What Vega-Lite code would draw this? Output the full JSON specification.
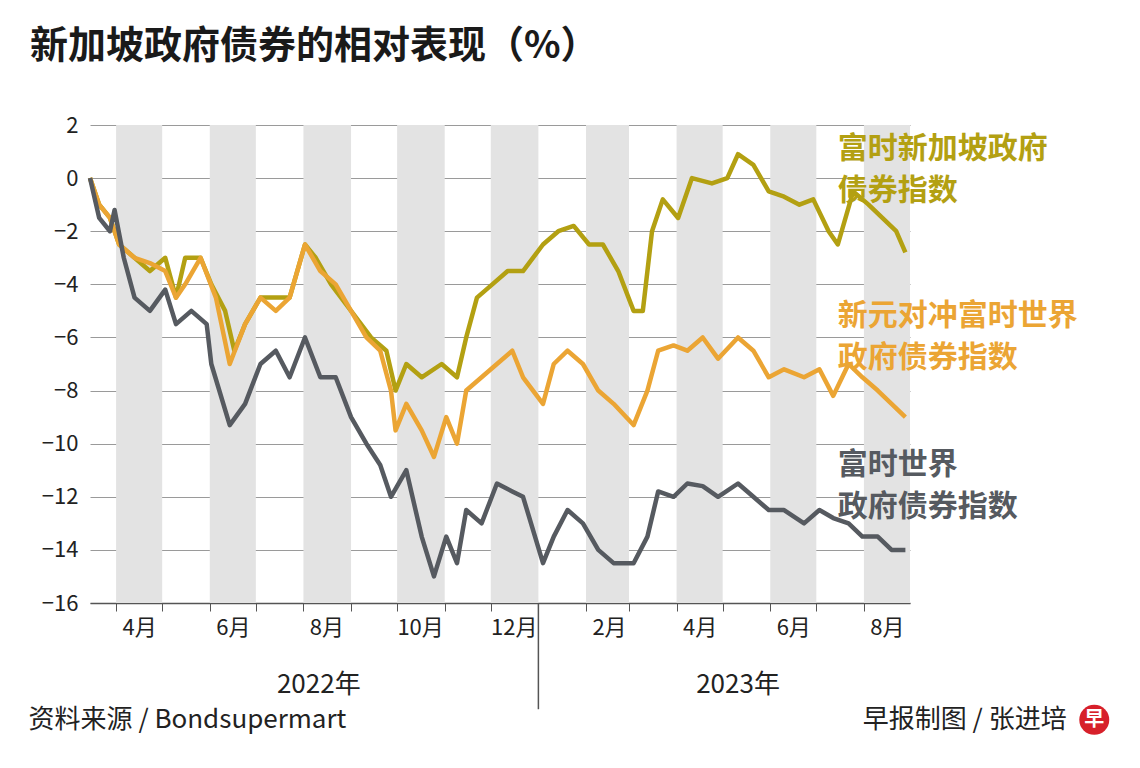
{
  "$schema": "https://vega.github.io/schema/vega-lite/v6.json",
  "width": 820,
  "height": 478,
  "autosize": "none",
  "padding": {"left": 90, "top": 125, "right": 230, "bottom": 165},
  "background": "white",
  "title": {
    "text": "新加坡政府债券的相对表现（%）",
    "anchor": "start",
    "frame": "group",
    "dx": -60,
    "offset": 48,
    "fontSize": 38,
    "fontWeight": "bold",
    "font": "Noto Sans CJK SC",
    "color": "#1a1a1a"
  },
  "config": {
    "view": {"stroke": null},
    "font": "Noto Sans CJK SC"
  },
  "datasets": {
    "bands": [
      {"start": "2022-04-01", "end": "2022-05-01"},
      {"start": "2022-06-01", "end": "2022-07-01"},
      {"start": "2022-08-01", "end": "2022-09-01"},
      {"start": "2022-10-01", "end": "2022-11-01"},
      {"start": "2022-12-01", "end": "2023-01-01"},
      {"start": "2023-02-01", "end": "2023-03-01"},
      {"start": "2023-04-01", "end": "2023-05-01"},
      {"start": "2023-06-01", "end": "2023-07-01"},
      {"start": "2023-08-01", "end": "2023-08-31"}
    ],
    "series": [
      {"s": "sg", "d": "2022-03-15", "v": 0},
      {"s": "sg", "d": "2022-03-21", "v": -1},
      {"s": "sg", "d": "2022-03-28", "v": -1.5},
      {"s": "sg", "d": "2022-04-03", "v": -2.5},
      {"s": "sg", "d": "2022-04-13", "v": -3},
      {"s": "sg", "d": "2022-04-23", "v": -3.5},
      {"s": "sg", "d": "2022-05-03", "v": -3},
      {"s": "sg", "d": "2022-05-10", "v": -4.5},
      {"s": "sg", "d": "2022-05-16", "v": -3},
      {"s": "sg", "d": "2022-05-26", "v": -3},
      {"s": "sg", "d": "2022-06-02", "v": -4},
      {"s": "sg", "d": "2022-06-11", "v": -5},
      {"s": "sg", "d": "2022-06-17", "v": -6.5},
      {"s": "sg", "d": "2022-06-24", "v": -5.5},
      {"s": "sg", "d": "2022-07-04", "v": -4.5},
      {"s": "sg", "d": "2022-07-14", "v": -4.5},
      {"s": "sg", "d": "2022-07-23", "v": -4.5},
      {"s": "sg", "d": "2022-08-02", "v": -2.5},
      {"s": "sg", "d": "2022-08-09", "v": -3},
      {"s": "sg", "d": "2022-08-19", "v": -4},
      {"s": "sg", "d": "2022-09-01", "v": -5},
      {"s": "sg", "d": "2022-09-14", "v": -6},
      {"s": "sg", "d": "2022-09-24", "v": -6.5},
      {"s": "sg", "d": "2022-09-30", "v": -8},
      {"s": "sg", "d": "2022-10-07", "v": -7},
      {"s": "sg", "d": "2022-10-17", "v": -7.5},
      {"s": "sg", "d": "2022-10-30", "v": -7},
      {"s": "sg", "d": "2022-11-09", "v": -7.5},
      {"s": "sg", "d": "2022-11-15", "v": -6},
      {"s": "sg", "d": "2022-11-22", "v": -4.5},
      {"s": "sg", "d": "2022-12-02", "v": -4},
      {"s": "sg", "d": "2022-12-12", "v": -3.5},
      {"s": "sg", "d": "2022-12-22", "v": -3.5},
      {"s": "sg", "d": "2023-01-04", "v": -2.5},
      {"s": "sg", "d": "2023-01-14", "v": -2},
      {"s": "sg", "d": "2023-01-24", "v": -1.8},
      {"s": "sg", "d": "2023-02-03", "v": -2.5},
      {"s": "sg", "d": "2023-02-12", "v": -2.5},
      {"s": "sg", "d": "2023-02-22", "v": -3.5},
      {"s": "sg", "d": "2023-03-04", "v": -5},
      {"s": "sg", "d": "2023-03-10", "v": -5},
      {"s": "sg", "d": "2023-03-16", "v": -2},
      {"s": "sg", "d": "2023-03-23", "v": -0.8},
      {"s": "sg", "d": "2023-04-02", "v": -1.5},
      {"s": "sg", "d": "2023-04-11", "v": 0},
      {"s": "sg", "d": "2023-04-24", "v": -0.2},
      {"s": "sg", "d": "2023-05-04", "v": 0},
      {"s": "sg", "d": "2023-05-11", "v": 0.9},
      {"s": "sg", "d": "2023-05-21", "v": 0.5},
      {"s": "sg", "d": "2023-05-31", "v": -0.5},
      {"s": "sg", "d": "2023-06-10", "v": -0.7},
      {"s": "sg", "d": "2023-06-20", "v": -1},
      {"s": "sg", "d": "2023-06-29", "v": -0.8},
      {"s": "sg", "d": "2023-07-09", "v": -2},
      {"s": "sg", "d": "2023-07-15", "v": -2.5},
      {"s": "sg", "d": "2023-07-25", "v": -0.5},
      {"s": "sg", "d": "2023-08-04", "v": -1},
      {"s": "sg", "d": "2023-08-13", "v": -1.5},
      {"s": "sg", "d": "2023-08-22", "v": -2},
      {"s": "sg", "d": "2023-08-28", "v": -2.8},
      {"s": "hedged", "d": "2022-03-15", "v": 0},
      {"s": "hedged", "d": "2022-03-21", "v": -1},
      {"s": "hedged", "d": "2022-03-28", "v": -1.5},
      {"s": "hedged", "d": "2022-04-03", "v": -2.5},
      {"s": "hedged", "d": "2022-04-13", "v": -3},
      {"s": "hedged", "d": "2022-04-23", "v": -3.2},
      {"s": "hedged", "d": "2022-05-03", "v": -3.5},
      {"s": "hedged", "d": "2022-05-10", "v": -4.5},
      {"s": "hedged", "d": "2022-05-16", "v": -4},
      {"s": "hedged", "d": "2022-05-26", "v": -3},
      {"s": "hedged", "d": "2022-06-05", "v": -4.5},
      {"s": "hedged", "d": "2022-06-14", "v": -7},
      {"s": "hedged", "d": "2022-06-24", "v": -5.5},
      {"s": "hedged", "d": "2022-07-04", "v": -4.5},
      {"s": "hedged", "d": "2022-07-14", "v": -5},
      {"s": "hedged", "d": "2022-07-23", "v": -4.5},
      {"s": "hedged", "d": "2022-08-02", "v": -2.5},
      {"s": "hedged", "d": "2022-08-12", "v": -3.5},
      {"s": "hedged", "d": "2022-08-22", "v": -4},
      {"s": "hedged", "d": "2022-09-01", "v": -5},
      {"s": "hedged", "d": "2022-09-11", "v": -6},
      {"s": "hedged", "d": "2022-09-20", "v": -6.5},
      {"s": "hedged", "d": "2022-09-27", "v": -8},
      {"s": "hedged", "d": "2022-09-30", "v": -9.5},
      {"s": "hedged", "d": "2022-10-07", "v": -8.5},
      {"s": "hedged", "d": "2022-10-17", "v": -9.5},
      {"s": "hedged", "d": "2022-10-25", "v": -10.5},
      {"s": "hedged", "d": "2022-11-02", "v": -9},
      {"s": "hedged", "d": "2022-11-09", "v": -10},
      {"s": "hedged", "d": "2022-11-15", "v": -8},
      {"s": "hedged", "d": "2022-11-25", "v": -7.5},
      {"s": "hedged", "d": "2022-12-05", "v": -7},
      {"s": "hedged", "d": "2022-12-15", "v": -6.5},
      {"s": "hedged", "d": "2022-12-22", "v": -7.5},
      {"s": "hedged", "d": "2023-01-04", "v": -8.5},
      {"s": "hedged", "d": "2023-01-11", "v": -7},
      {"s": "hedged", "d": "2023-01-20", "v": -6.5},
      {"s": "hedged", "d": "2023-01-30", "v": -7},
      {"s": "hedged", "d": "2023-02-09", "v": -8},
      {"s": "hedged", "d": "2023-02-19", "v": -8.5},
      {"s": "hedged", "d": "2023-03-04", "v": -9.3},
      {"s": "hedged", "d": "2023-03-13", "v": -8},
      {"s": "hedged", "d": "2023-03-20", "v": -6.5},
      {"s": "hedged", "d": "2023-03-30", "v": -6.3},
      {"s": "hedged", "d": "2023-04-08", "v": -6.5},
      {"s": "hedged", "d": "2023-04-18", "v": -6},
      {"s": "hedged", "d": "2023-04-28", "v": -6.8},
      {"s": "hedged", "d": "2023-05-11", "v": -6},
      {"s": "hedged", "d": "2023-05-21", "v": -6.5},
      {"s": "hedged", "d": "2023-05-31", "v": -7.5},
      {"s": "hedged", "d": "2023-06-10", "v": -7.2},
      {"s": "hedged", "d": "2023-06-23", "v": -7.5},
      {"s": "hedged", "d": "2023-07-03", "v": -7.2},
      {"s": "hedged", "d": "2023-07-12", "v": -8.2},
      {"s": "hedged", "d": "2023-07-22", "v": -7},
      {"s": "hedged", "d": "2023-07-31", "v": -7.5},
      {"s": "hedged", "d": "2023-08-10", "v": -8},
      {"s": "hedged", "d": "2023-08-19", "v": -8.5},
      {"s": "hedged", "d": "2023-08-28", "v": -9},
      {"s": "wgbi", "d": "2022-03-15", "v": 0},
      {"s": "wgbi", "d": "2022-03-21", "v": -1.5},
      {"s": "wgbi", "d": "2022-03-28", "v": -2},
      {"s": "wgbi", "d": "2022-03-31", "v": -1.2},
      {"s": "wgbi", "d": "2022-04-06", "v": -3},
      {"s": "wgbi", "d": "2022-04-13", "v": -4.5},
      {"s": "wgbi", "d": "2022-04-23", "v": -5},
      {"s": "wgbi", "d": "2022-05-03", "v": -4.2},
      {"s": "wgbi", "d": "2022-05-10", "v": -5.5},
      {"s": "wgbi", "d": "2022-05-20", "v": -5},
      {"s": "wgbi", "d": "2022-05-30", "v": -5.5},
      {"s": "wgbi", "d": "2022-06-02", "v": -7},
      {"s": "wgbi", "d": "2022-06-14", "v": -9.3},
      {"s": "wgbi", "d": "2022-06-24", "v": -8.5},
      {"s": "wgbi", "d": "2022-07-04", "v": -7},
      {"s": "wgbi", "d": "2022-07-14", "v": -6.5},
      {"s": "wgbi", "d": "2022-07-23", "v": -7.5},
      {"s": "wgbi", "d": "2022-08-02", "v": -6},
      {"s": "wgbi", "d": "2022-08-12", "v": -7.5},
      {"s": "wgbi", "d": "2022-08-22", "v": -7.5},
      {"s": "wgbi", "d": "2022-09-01", "v": -9},
      {"s": "wgbi", "d": "2022-09-11", "v": -10},
      {"s": "wgbi", "d": "2022-09-20", "v": -10.8},
      {"s": "wgbi", "d": "2022-09-27", "v": -12},
      {"s": "wgbi", "d": "2022-10-07", "v": -11},
      {"s": "wgbi", "d": "2022-10-17", "v": -13.5},
      {"s": "wgbi", "d": "2022-10-25", "v": -15},
      {"s": "wgbi", "d": "2022-11-02", "v": -13.5},
      {"s": "wgbi", "d": "2022-11-09", "v": -14.5},
      {"s": "wgbi", "d": "2022-11-15", "v": -12.5},
      {"s": "wgbi", "d": "2022-11-25", "v": -13},
      {"s": "wgbi", "d": "2022-12-05", "v": -11.5},
      {"s": "wgbi", "d": "2022-12-15", "v": -11.8},
      {"s": "wgbi", "d": "2022-12-22", "v": -12},
      {"s": "wgbi", "d": "2023-01-04", "v": -14.5},
      {"s": "wgbi", "d": "2023-01-11", "v": -13.5},
      {"s": "wgbi", "d": "2023-01-20", "v": -12.5},
      {"s": "wgbi", "d": "2023-01-30", "v": -13},
      {"s": "wgbi", "d": "2023-02-09", "v": -14},
      {"s": "wgbi", "d": "2023-02-19", "v": -14.5},
      {"s": "wgbi", "d": "2023-03-04", "v": -14.5},
      {"s": "wgbi", "d": "2023-03-13", "v": -13.5},
      {"s": "wgbi", "d": "2023-03-20", "v": -11.8},
      {"s": "wgbi", "d": "2023-03-30", "v": -12},
      {"s": "wgbi", "d": "2023-04-08", "v": -11.5},
      {"s": "wgbi", "d": "2023-04-18", "v": -11.6},
      {"s": "wgbi", "d": "2023-04-28", "v": -12},
      {"s": "wgbi", "d": "2023-05-11", "v": -11.5},
      {"s": "wgbi", "d": "2023-05-21", "v": -12},
      {"s": "wgbi", "d": "2023-05-31", "v": -12.5},
      {"s": "wgbi", "d": "2023-06-10", "v": -12.5},
      {"s": "wgbi", "d": "2023-06-23", "v": -13},
      {"s": "wgbi", "d": "2023-07-03", "v": -12.5},
      {"s": "wgbi", "d": "2023-07-12", "v": -12.8},
      {"s": "wgbi", "d": "2023-07-22", "v": -13},
      {"s": "wgbi", "d": "2023-07-31", "v": -13.5},
      {"s": "wgbi", "d": "2023-08-10", "v": -13.5},
      {"s": "wgbi", "d": "2023-08-19", "v": -14},
      {"s": "wgbi", "d": "2023-08-28", "v": -14}
    ],
    "labels": [
      {"s": "sg", "d": "2023-07-15", "v": 1.1, "t": "富时新加坡政府\n债券指数"},
      {"s": "hedged", "d": "2023-07-15", "v": -5.2, "t": "新元对冲富时世界\n政府债券指数"},
      {"s": "wgbi", "d": "2023-07-15", "v": -10.8, "t": "富时世界\n政府债券指数"}
    ]
  },
  "encoding": {
    "x": {
      "field": "d",
      "type": "temporal",
      "scale": {"domain": ["2022-03-15", "2023-08-31"]},
      "axis": {
        "title": null,
        "values": ["2022-04-01", "2022-05-01", "2022-06-01", "2022-07-01", "2022-08-01", "2022-09-01", "2022-10-01", "2022-11-01", "2022-12-01", "2023-01-01", "2023-02-01", "2023-03-01", "2023-04-01", "2023-05-01", "2023-06-01", "2023-07-01", "2023-08-01"],
        "labelExpr": "month(datum.value) % 2 == 1 ? (month(datum.value) + 1) + '月' : ''",
        "labelOffset": 23,
        "labelFontSize": 22,
        "labelColor": "#222",
        "labelPadding": 6,
        "tickSize": 8,
        "tickColor": "#555",
        "domainColor": "#555",
        "domainWidth": 1.5,
        "grid": false
      }
    }
  },
  "layer": [
    {
      "data": {"name": "bands"},
      "mark": {"type": "rect", "color": "#e3e3e3"},
      "encoding": {
        "x": {"field": "start", "type": "temporal"},
        "x2": {"field": "end"}
      }
    },
    {
      "data": {"name": "series"},
      "mark": {"type": "line", "strokeWidth": 4.5, "strokeJoin": "round"},
      "encoding": {
        "y": {
          "field": "v",
          "type": "quantitative",
          "scale": {"domain": [-16, 2], "nice": false},
          "axis": {
            "title": null,
            "values": [-16, -14, -12, -10, -8, -6, -4, -2, 0, 2],
            "labelFontSize": 22,
            "labelColor": "#222",
            "labelPadding": 12,
            "domain": false,
            "ticks": false,
            "gridColor": "#9a9a9a",
            "gridWidth": 1
          }
        },
        "color": {
          "field": "s",
          "type": "nominal",
          "scale": {"domain": ["sg", "hedged", "wgbi"], "range": ["#b3a012", "#eba534", "#565a60"]},
          "legend": null
        }
      }
    },
    {
      "data": {"name": "labels"},
      "mark": {"type": "text", "align": "left", "baseline": "middle", "fontSize": 30, "fontWeight": "bold", "lineBreak": "\n", "lineHeight": 42},
      "encoding": {
        "y": {"field": "v", "type": "quantitative"},
        "text": {"field": "t"},
        "color": {"field": "s", "type": "nominal", "legend": null}
      }
    },
    {
      "data": {"values": [{"d": "2023-01-01", "v": -16, "v2": -20}]},
      "mark": {"type": "rule", "color": "#555", "strokeWidth": 1.5},
      "encoding": {
        "y": {"field": "v", "type": "quantitative"},
        "y2": {"field": "v2"}
      }
    },
    {
      "data": {"values": [{"d": "2022-08-11", "v": -19.1, "t": "2022年"}, {"d": "2023-05-11", "v": -19.1, "t": "2023年"}]},
      "mark": {"type": "text", "align": "center", "baseline": "middle", "fontSize": 26, "color": "#222"},
      "encoding": {"y": {"field": "v", "type": "quantitative"}, "text": {"field": "t"}}
    },
    {
      "data": {"values": [{"d": "2022-02-03", "v": -20.4, "t": "资料来源 / Bondsupermart"}]},
      "mark": {"type": "text", "align": "left", "baseline": "middle", "fontSize": 26, "color": "#222"},
      "encoding": {"y": {"field": "v", "type": "quantitative"}, "text": {"field": "t"}}
    },
    {
      "data": {"values": [{"d": "2023-12-11", "v": -20.4, "t": "早报制图 / 张进培"}]},
      "mark": {"type": "text", "align": "right", "baseline": "middle", "fontSize": 26, "color": "#222"},
      "encoding": {"y": {"field": "v", "type": "quantitative"}, "text": {"field": "t"}}
    },
    {
      "data": {"values": [{"d": "2023-12-29", "v": -20.4, "t": "早"}]},
      "layer": [
        {
          "mark": {"type": "point", "filled": true, "size": 900, "color": "#d7202a", "opacity": 1},
          "encoding": {"y": {"field": "v", "type": "quantitative"}}
        },
        {
          "mark": {"type": "text", "fontSize": 20, "fontWeight": "bold", "color": "white", "baseline": "middle", "align": "center"},
          "encoding": {"y": {"field": "v", "type": "quantitative"}, "text": {"field": "t"}}
        }
      ]
    }
  ]
}
